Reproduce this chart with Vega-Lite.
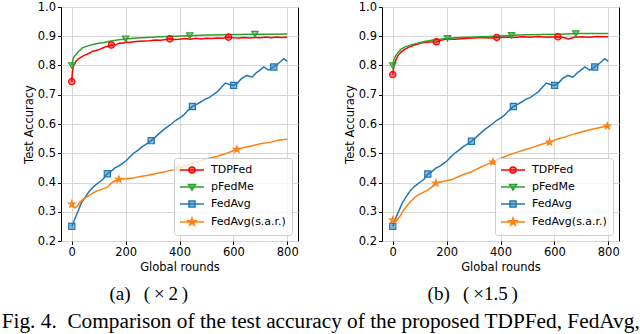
{
"$schema": "https://vega.github.io/schema/vega-lite/v6.json",
"padding": {"left": 1, "top": 0, "right": 0, "bottom": 0},
"config": {
  "font": "DejaVu Sans",
  "view": {"stroke": "black", "strokeWidth": 1},
  "axis": {"labelFont": "DejaVu Sans", "labelFontSize": 11.5, "titleFont": "DejaVu Sans", "titleFontSize": 11.5, "titleFontWeight": "normal", "labelColor": "black", "titleColor": "black", "tickColor": "black", "tickSize": 3.5, "domain": false, "gridColor": "#d6d6d6", "gridWidth": 1, "labelPadding": 2, "titlePadding": 3, "labelOverlap": false},
  "legend": {"labelFont": "DejaVu Sans", "labelFontSize": 11, "labelColor": "black"}
},
"datasets": {
"la": [
{"s":"TDPFed","r":0,"v":0.745},{"s":"TDPFed","r":2,"v":0.775},{"s":"TDPFed","r":5,"v":0.795},{"s":"TDPFed","r":10,"v":0.805},{"s":"TDPFed","r":16,"v":0.815},{"s":"TDPFed","r":25,"v":0.823},{"s":"TDPFed","r":41,"v":0.832},{"s":"TDPFed","r":55,"v":0.838},{"s":"TDPFed","r":65,"v":0.842},{"s":"TDPFed","r":78,"v":0.849},{"s":"TDPFed","r":90,"v":0.851},{"s":"TDPFed","r":103,"v":0.855},{"s":"TDPFed","r":115,"v":0.86},{"s":"TDPFed","r":125,"v":0.864},{"s":"TDPFed","r":135,"v":0.866},{"s":"TDPFed","r":147,"v":0.87},{"s":"TDPFed","r":160,"v":0.869},{"s":"TDPFed","r":170,"v":0.874},{"s":"TDPFed","r":178,"v":0.877},{"s":"TDPFed","r":190,"v":0.876},{"s":"TDPFed","r":203,"v":0.88},{"s":"TDPFed","r":215,"v":0.879},{"s":"TDPFed","r":230,"v":0.881},{"s":"TDPFed","r":250,"v":0.883},{"s":"TDPFed","r":270,"v":0.884},{"s":"TDPFed","r":290,"v":0.885},{"s":"TDPFed","r":310,"v":0.887},{"s":"TDPFed","r":330,"v":0.886},{"s":"TDPFed","r":350,"v":0.889},{"s":"TDPFed","r":364,"v":0.891},{"s":"TDPFed","r":380,"v":0.889},{"s":"TDPFed","r":400,"v":0.89},{"s":"TDPFed","r":420,"v":0.892},{"s":"TDPFed","r":440,"v":0.89},{"s":"TDPFed","r":460,"v":0.893},{"s":"TDPFed","r":480,"v":0.891},{"s":"TDPFed","r":500,"v":0.893},{"s":"TDPFed","r":520,"v":0.892},{"s":"TDPFed","r":540,"v":0.894},{"s":"TDPFed","r":560,"v":0.893},{"s":"TDPFed","r":582,"v":0.897},{"s":"TDPFed","r":600,"v":0.895},{"s":"TDPFed","r":620,"v":0.894},{"s":"TDPFed","r":640,"v":0.896},{"s":"TDPFed","r":660,"v":0.894},{"s":"TDPFed","r":680,"v":0.896},{"s":"TDPFed","r":700,"v":0.895},{"s":"TDPFed","r":720,"v":0.897},{"s":"TDPFed","r":740,"v":0.895},{"s":"TDPFed","r":760,"v":0.897},{"s":"TDPFed","r":780,"v":0.896},{"s":"TDPFed","r":800,"v":0.897},
{"s":"pFedMe","r":0,"v":0.8},{"s":"pFedMe","r":3,"v":0.815},{"s":"pFedMe","r":6,"v":0.825},{"s":"pFedMe","r":10,"v":0.832},{"s":"pFedMe","r":16,"v":0.838},{"s":"pFedMe","r":25,"v":0.848},{"s":"pFedMe","r":41,"v":0.861},{"s":"pFedMe","r":60,"v":0.867},{"s":"pFedMe","r":78,"v":0.872},{"s":"pFedMe","r":100,"v":0.876},{"s":"pFedMe","r":120,"v":0.879},{"s":"pFedMe","r":140,"v":0.883},{"s":"pFedMe","r":170,"v":0.887},{"s":"pFedMe","r":200,"v":0.891},{"s":"pFedMe","r":240,"v":0.894},{"s":"pFedMe","r":280,"v":0.896},{"s":"pFedMe","r":327,"v":0.898},{"s":"pFedMe","r":380,"v":0.9},{"s":"pFedMe","r":438,"v":0.902},{"s":"pFedMe","r":500,"v":0.904},{"s":"pFedMe","r":560,"v":0.905},{"s":"pFedMe","r":620,"v":0.906},{"s":"pFedMe","r":680,"v":0.907},{"s":"pFedMe","r":740,"v":0.907},{"s":"pFedMe","r":800,"v":0.908},
{"s":"FedAvg","r":0,"v":0.25},{"s":"FedAvg","r":5,"v":0.26},{"s":"FedAvg","r":12,"v":0.277},{"s":"FedAvg","r":20,"v":0.295},{"s":"FedAvg","r":25,"v":0.305},{"s":"FedAvg","r":35,"v":0.33},{"s":"FedAvg","r":50,"v":0.35},{"s":"FedAvg","r":65,"v":0.37},{"s":"FedAvg","r":80,"v":0.385},{"s":"FedAvg","r":100,"v":0.4},{"s":"FedAvg","r":115,"v":0.41},{"s":"FedAvg","r":132,"v":0.43},{"s":"FedAvg","r":145,"v":0.437},{"s":"FedAvg","r":160,"v":0.45},{"s":"FedAvg","r":175,"v":0.457},{"s":"FedAvg","r":190,"v":0.466},{"s":"FedAvg","r":203,"v":0.475},{"s":"FedAvg","r":215,"v":0.487},{"s":"FedAvg","r":230,"v":0.5},{"s":"FedAvg","r":245,"v":0.51},{"s":"FedAvg","r":260,"v":0.522},{"s":"FedAvg","r":275,"v":0.53},{"s":"FedAvg","r":295,"v":0.543},{"s":"FedAvg","r":310,"v":0.555},{"s":"FedAvg","r":325,"v":0.568},{"s":"FedAvg","r":340,"v":0.58},{"s":"FedAvg","r":355,"v":0.59},{"s":"FedAvg","r":370,"v":0.6},{"s":"FedAvg","r":385,"v":0.612},{"s":"FedAvg","r":400,"v":0.62},{"s":"FedAvg","r":415,"v":0.63},{"s":"FedAvg","r":430,"v":0.645},{"s":"FedAvg","r":448,"v":0.66},{"s":"FedAvg","r":465,"v":0.668},{"s":"FedAvg","r":480,"v":0.676},{"s":"FedAvg","r":495,"v":0.685},{"s":"FedAvg","r":510,"v":0.69},{"s":"FedAvg","r":525,"v":0.7},{"s":"FedAvg","r":540,"v":0.71},{"s":"FedAvg","r":555,"v":0.725},{"s":"FedAvg","r":570,"v":0.74},{"s":"FedAvg","r":585,"v":0.735},{"s":"FedAvg","r":601,"v":0.732},{"s":"FedAvg","r":615,"v":0.74},{"s":"FedAvg","r":630,"v":0.755},{"s":"FedAvg","r":650,"v":0.766},{"s":"FedAvg","r":669,"v":0.76},{"s":"FedAvg","r":685,"v":0.775},{"s":"FedAvg","r":700,"v":0.785},{"s":"FedAvg","r":713,"v":0.795},{"s":"FedAvg","r":731,"v":0.784},{"s":"FedAvg","r":750,"v":0.795},{"s":"FedAvg","r":765,"v":0.805},{"s":"FedAvg","r":787,"v":0.823},{"s":"FedAvg","r":800,"v":0.815},
{"s":"FedAvg(s.a.r.)","r":0,"v":0.326},{"s":"FedAvg(s.a.r.)","r":5,"v":0.318},{"s":"FedAvg(s.a.r.)","r":12,"v":0.313},{"s":"FedAvg(s.a.r.)","r":20,"v":0.318},{"s":"FedAvg(s.a.r.)","r":31,"v":0.333},{"s":"FedAvg(s.a.r.)","r":45,"v":0.345},{"s":"FedAvg(s.a.r.)","r":62,"v":0.354},{"s":"FedAvg(s.a.r.)","r":78,"v":0.364},{"s":"FedAvg(s.a.r.)","r":90,"v":0.37},{"s":"FedAvg(s.a.r.)","r":103,"v":0.374},{"s":"FedAvg(s.a.r.)","r":120,"v":0.38},{"s":"FedAvg(s.a.r.)","r":134,"v":0.385},{"s":"FedAvg(s.a.r.)","r":147,"v":0.398},{"s":"FedAvg(s.a.r.)","r":160,"v":0.405},{"s":"FedAvg(s.a.r.)","r":175,"v":0.411},{"s":"FedAvg(s.a.r.)","r":200,"v":0.413},{"s":"FedAvg(s.a.r.)","r":228,"v":0.415},{"s":"FedAvg(s.a.r.)","r":250,"v":0.42},{"s":"FedAvg(s.a.r.)","r":278,"v":0.424},{"s":"FedAvg(s.a.r.)","r":300,"v":0.428},{"s":"FedAvg(s.a.r.)","r":328,"v":0.433},{"s":"FedAvg(s.a.r.)","r":350,"v":0.438},{"s":"FedAvg(s.a.r.)","r":378,"v":0.444},{"s":"FedAvg(s.a.r.)","r":400,"v":0.45},{"s":"FedAvg(s.a.r.)","r":430,"v":0.46},{"s":"FedAvg(s.a.r.)","r":455,"v":0.468},{"s":"FedAvg(s.a.r.)","r":483,"v":0.476},{"s":"FedAvg(s.a.r.)","r":510,"v":0.483},{"s":"FedAvg(s.a.r.)","r":540,"v":0.49},{"s":"FedAvg(s.a.r.)","r":570,"v":0.498},{"s":"FedAvg(s.a.r.)","r":590,"v":0.505},{"s":"FedAvg(s.a.r.)","r":613,"v":0.513},{"s":"FedAvg(s.a.r.)","r":640,"v":0.52},{"s":"FedAvg(s.a.r.)","r":670,"v":0.526},{"s":"FedAvg(s.a.r.)","r":706,"v":0.533},{"s":"FedAvg(s.a.r.)","r":740,"v":0.538},{"s":"FedAvg(s.a.r.)","r":770,"v":0.545},{"s":"FedAvg(s.a.r.)","r":800,"v":0.548}
],
"ma": [
{"s":"TDPFed","r":0,"v":0.745},{"s":"TDPFed","r":147,"v":0.87},{"s":"TDPFed","r":364,"v":0.891},{"s":"TDPFed","r":582,"v":0.897},
{"s":"pFedMe","r":0,"v":0.8},{"s":"pFedMe","r":200,"v":0.891},{"s":"pFedMe","r":438,"v":0.902},{"s":"pFedMe","r":680,"v":0.907},
{"s":"FedAvg","r":0,"v":0.25},{"s":"FedAvg","r":132,"v":0.43},{"s":"FedAvg","r":295,"v":0.543},{"s":"FedAvg","r":448,"v":0.66},{"s":"FedAvg","r":601,"v":0.732},{"s":"FedAvg","r":750,"v":0.795},
{"s":"FedAvg(s.a.r.)","r":0,"v":0.326},{"s":"FedAvg(s.a.r.)","r":175,"v":0.411},{"s":"FedAvg(s.a.r.)","r":395,"v":0.449},{"s":"FedAvg(s.a.r.)","r":613,"v":0.513}
],
"lb": [
{"s":"TDPFed","r":0,"v":0.769},{"s":"TDPFed","r":3,"v":0.79},{"s":"TDPFed","r":6,"v":0.805},{"s":"TDPFed","r":10,"v":0.815},{"s":"TDPFed","r":19,"v":0.834},{"s":"TDPFed","r":30,"v":0.845},{"s":"TDPFed","r":44,"v":0.855},{"s":"TDPFed","r":60,"v":0.863},{"s":"TDPFed","r":81,"v":0.87},{"s":"TDPFed","r":100,"v":0.875},{"s":"TDPFed","r":118,"v":0.879},{"s":"TDPFed","r":140,"v":0.88},{"s":"TDPFed","r":162,"v":0.881},{"s":"TDPFed","r":180,"v":0.886},{"s":"TDPFed","r":203,"v":0.891},{"s":"TDPFed","r":230,"v":0.89},{"s":"TDPFed","r":268,"v":0.892},{"s":"TDPFed","r":300,"v":0.894},{"s":"TDPFed","r":330,"v":0.896},{"s":"TDPFed","r":360,"v":0.894},{"s":"TDPFed","r":386,"v":0.896},{"s":"TDPFed","r":420,"v":0.897},{"s":"TDPFed","r":450,"v":0.896},{"s":"TDPFed","r":480,"v":0.898},{"s":"TDPFed","r":510,"v":0.897},{"s":"TDPFed","r":540,"v":0.899},{"s":"TDPFed","r":570,"v":0.897},{"s":"TDPFed","r":613,"v":0.898},{"s":"TDPFed","r":635,"v":0.896},{"s":"TDPFed","r":653,"v":0.891},{"s":"TDPFed","r":670,"v":0.896},{"s":"TDPFed","r":700,"v":0.898},{"s":"TDPFed","r":730,"v":0.897},{"s":"TDPFed","r":760,"v":0.899},{"s":"TDPFed","r":800,"v":0.898},
{"s":"pFedMe","r":0,"v":0.8},{"s":"pFedMe","r":3,"v":0.815},{"s":"pFedMe","r":6,"v":0.825},{"s":"pFedMe","r":10,"v":0.832},{"s":"pFedMe","r":19,"v":0.844},{"s":"pFedMe","r":30,"v":0.855},{"s":"pFedMe","r":44,"v":0.863},{"s":"pFedMe","r":60,"v":0.868},{"s":"pFedMe","r":81,"v":0.874},{"s":"pFedMe","r":100,"v":0.878},{"s":"pFedMe","r":118,"v":0.882},{"s":"pFedMe","r":150,"v":0.887},{"s":"pFedMe","r":203,"v":0.893},{"s":"pFedMe","r":250,"v":0.896},{"s":"pFedMe","r":330,"v":0.898},{"s":"pFedMe","r":380,"v":0.9},{"s":"pFedMe","r":441,"v":0.903},{"s":"pFedMe","r":500,"v":0.905},{"s":"pFedMe","r":560,"v":0.906},{"s":"pFedMe","r":620,"v":0.907},{"s":"pFedMe","r":680,"v":0.909},{"s":"pFedMe","r":740,"v":0.909},{"s":"pFedMe","r":800,"v":0.909},
{"s":"FedAvg","r":0,"v":0.25},{"s":"FedAvg","r":5,"v":0.262},{"s":"FedAvg","r":12,"v":0.28},{"s":"FedAvg","r":20,"v":0.298},{"s":"FedAvg","r":25,"v":0.308},{"s":"FedAvg","r":35,"v":0.33},{"s":"FedAvg","r":50,"v":0.352},{"s":"FedAvg","r":65,"v":0.372},{"s":"FedAvg","r":80,"v":0.386},{"s":"FedAvg","r":100,"v":0.4},{"s":"FedAvg","r":115,"v":0.41},{"s":"FedAvg","r":130,"v":0.429},{"s":"FedAvg","r":145,"v":0.437},{"s":"FedAvg","r":160,"v":0.449},{"s":"FedAvg","r":175,"v":0.456},{"s":"FedAvg","r":190,"v":0.466},{"s":"FedAvg","r":203,"v":0.475},{"s":"FedAvg","r":215,"v":0.487},{"s":"FedAvg","r":230,"v":0.5},{"s":"FedAvg","r":245,"v":0.51},{"s":"FedAvg","r":260,"v":0.522},{"s":"FedAvg","r":275,"v":0.53},{"s":"FedAvg","r":292,"v":0.541},{"s":"FedAvg","r":310,"v":0.555},{"s":"FedAvg","r":325,"v":0.568},{"s":"FedAvg","r":340,"v":0.58},{"s":"FedAvg","r":355,"v":0.59},{"s":"FedAvg","r":370,"v":0.6},{"s":"FedAvg","r":385,"v":0.612},{"s":"FedAvg","r":400,"v":0.62},{"s":"FedAvg","r":415,"v":0.63},{"s":"FedAvg","r":430,"v":0.645},{"s":"FedAvg","r":448,"v":0.66},{"s":"FedAvg","r":465,"v":0.668},{"s":"FedAvg","r":480,"v":0.676},{"s":"FedAvg","r":495,"v":0.685},{"s":"FedAvg","r":510,"v":0.69},{"s":"FedAvg","r":525,"v":0.7},{"s":"FedAvg","r":540,"v":0.71},{"s":"FedAvg","r":555,"v":0.725},{"s":"FedAvg","r":570,"v":0.74},{"s":"FedAvg","r":585,"v":0.735},{"s":"FedAvg","r":601,"v":0.732},{"s":"FedAvg","r":615,"v":0.74},{"s":"FedAvg","r":630,"v":0.755},{"s":"FedAvg","r":650,"v":0.766},{"s":"FedAvg","r":669,"v":0.76},{"s":"FedAvg","r":685,"v":0.775},{"s":"FedAvg","r":700,"v":0.785},{"s":"FedAvg","r":713,"v":0.795},{"s":"FedAvg","r":731,"v":0.784},{"s":"FedAvg","r":750,"v":0.795},{"s":"FedAvg","r":765,"v":0.805},{"s":"FedAvg","r":787,"v":0.823},{"s":"FedAvg","r":800,"v":0.815},
{"s":"FedAvg(s.a.r.)","r":0,"v":0.271},{"s":"FedAvg(s.a.r.)","r":5,"v":0.264},{"s":"FedAvg(s.a.r.)","r":10,"v":0.265},{"s":"FedAvg(s.a.r.)","r":20,"v":0.277},{"s":"FedAvg(s.a.r.)","r":29,"v":0.288},{"s":"FedAvg(s.a.r.)","r":40,"v":0.305},{"s":"FedAvg(s.a.r.)","r":54,"v":0.322},{"s":"FedAvg(s.a.r.)","r":66,"v":0.335},{"s":"FedAvg(s.a.r.)","r":79,"v":0.347},{"s":"FedAvg(s.a.r.)","r":90,"v":0.355},{"s":"FedAvg(s.a.r.)","r":104,"v":0.362},{"s":"FedAvg(s.a.r.)","r":115,"v":0.367},{"s":"FedAvg(s.a.r.)","r":129,"v":0.373},{"s":"FedAvg(s.a.r.)","r":145,"v":0.385},{"s":"FedAvg(s.a.r.)","r":160,"v":0.398},{"s":"FedAvg(s.a.r.)","r":180,"v":0.402},{"s":"FedAvg(s.a.r.)","r":203,"v":0.407},{"s":"FedAvg(s.a.r.)","r":220,"v":0.41},{"s":"FedAvg(s.a.r.)","r":241,"v":0.419},{"s":"FedAvg(s.a.r.)","r":265,"v":0.428},{"s":"FedAvg(s.a.r.)","r":291,"v":0.436},{"s":"FedAvg(s.a.r.)","r":310,"v":0.445},{"s":"FedAvg(s.a.r.)","r":328,"v":0.453},{"s":"FedAvg(s.a.r.)","r":350,"v":0.462},{"s":"FedAvg(s.a.r.)","r":372,"v":0.47},{"s":"FedAvg(s.a.r.)","r":400,"v":0.482},{"s":"FedAvg(s.a.r.)","r":429,"v":0.493},{"s":"FedAvg(s.a.r.)","r":460,"v":0.503},{"s":"FedAvg(s.a.r.)","r":490,"v":0.512},{"s":"FedAvg(s.a.r.)","r":520,"v":0.52},{"s":"FedAvg(s.a.r.)","r":550,"v":0.53},{"s":"FedAvg(s.a.r.)","r":582,"v":0.538},{"s":"FedAvg(s.a.r.)","r":610,"v":0.548},{"s":"FedAvg(s.a.r.)","r":640,"v":0.556},{"s":"FedAvg(s.a.r.)","r":677,"v":0.567},{"s":"FedAvg(s.a.r.)","r":710,"v":0.575},{"s":"FedAvg(s.a.r.)","r":740,"v":0.582},{"s":"FedAvg(s.a.r.)","r":770,"v":0.588},{"s":"FedAvg(s.a.r.)","r":797,"v":0.593},{"s":"FedAvg(s.a.r.)","r":800,"v":0.592}
],
"mb": [
{"s":"TDPFed","r":0,"v":0.769},{"s":"TDPFed","r":162,"v":0.881},{"s":"TDPFed","r":386,"v":0.896},{"s":"TDPFed","r":613,"v":0.898},
{"s":"pFedMe","r":0,"v":0.8},{"s":"pFedMe","r":203,"v":0.893},{"s":"pFedMe","r":441,"v":0.903},{"s":"pFedMe","r":680,"v":0.909},
{"s":"FedAvg","r":0,"v":0.25},{"s":"FedAvg","r":130,"v":0.429},{"s":"FedAvg","r":292,"v":0.541},{"s":"FedAvg","r":448,"v":0.66},{"s":"FedAvg","r":601,"v":0.732},{"s":"FedAvg","r":750,"v":0.795},
{"s":"FedAvg(s.a.r.)","r":0,"v":0.271},{"s":"FedAvg(s.a.r.)","r":160,"v":0.398},{"s":"FedAvg(s.a.r.)","r":372,"v":0.47},{"s":"FedAvg(s.a.r.)","r":582,"v":0.538},{"s":"FedAvg(s.a.r.)","r":797,"v":0.593}
]
},
"title": {"text": "Fig. 4.\u2002Comparison of the test accuracy of the proposed TDPFed, FedAvg,", "orient": "bottom", "anchor": "start", "frame": "bounds", "font": "Liberation Serif", "fontSize": 21.3, "fontWeight": "normal", "color": "black", "offset": 7, "dx": -21},
"spacing": 44,
"resolve": {"scale": {"color": "independent"}, "legend": {"color": "independent"}},
"hconcat": [
{
  "width": 237, "height": 234,
  "title": {"text": "(a)\u2002\u2009(\u2009×\u20092\u2009)", "orient": "bottom", "anchor": "middle", "frame": "bounds", "font": "Liberation Serif", "fontSize": 19, "fontWeight": "normal", "color": "black", "offset": 12, "dx": -12},
  "encoding": {
    "x": {"field": "r", "type": "quantitative", "scale": {"domain": [-40, 840], "nice": false, "zero": false}, "axis": {"values": [0, 200, 400, 600, 800], "title": "Global rounds"}},
    "y": {"field": "v", "type": "quantitative", "scale": {"domain": [0.2, 1.0], "nice": false, "zero": false}, "axis": {"values": [0.2, 0.3, 0.4, 0.5, 0.6, 0.7, 0.8, 0.9, 1.0], "format": ".1f", "title": "Test Accuracy"}}
  },
  "layer": [
    {"data": {"name": "la"}, "mark": {"type": "line", "strokeWidth": 1.5},
     "encoding": {
       "color": {"field": "s", "type": "nominal", "scale": {"domain": ["TDPFed", "pFedMe", "FedAvg", "FedAvg(s.a.r.)"], "range": ["#ff0000", "#2ca02c", "#1f77b4", "#ff7f0e"]},
         "legend": {"title": null, "orient": "bottom-right", "offset": 6, "padding": 6, "fillColor": "rgba(255,255,255,0.8)", "strokeColor": "#cccccc", "cornerRadius": 3, "symbolSize": 100, "labelOffset": 19, "rowPadding": 5, "symbolStrokeWidth": 1.5,
           "encode": {"symbols": {"update": {
             "shape": {"signal": "datum.value === 'TDPFed' ? 'M-1.2,0H3.6M0.6,0A0.6,0.6 0 1,0 1.8,0A0.6,0.6 0 1,0 0.6,0Z' : datum.value === 'pFedMe' ? 'M-1.2,0H3.6M0.5,-0.5L1.9,-0.5L1.2,0.6Z' : datum.value === 'FedAvg' ? 'M-1.2,0H3.6M0.6,-0.6H1.8V0.6H0.6Z' : 'M-1.2,0H3.6M1.2,-0.75L1.367,-0.23L1.913,-0.232L1.471,0.088L1.641,0.607L1.2,0.285L0.759,0.607L0.929,0.088L0.487,-0.232L1.033,-0.23Z'"},
             "fill": {"signal": "datum.value === 'TDPFed' ? '#ff0000' : datum.value === 'pFedMe' ? '#2ca02c' : datum.value === 'FedAvg' ? '#1f77b4' : '#ff7f0e'"},
             "fillOpacity": {"value": 0.5}
           }}}}}
     }},
    {"data": {"name": "ma"}, "transform": [{"filter": "datum.s === 'TDPFed'"}], "mark": {"type": "point", "shape": "circle", "size": 40, "filled": true, "color": "#ff0000", "fill": "#ff0000", "stroke": "#ff0000", "fillOpacity": 0.5, "strokeWidth": 1.2, "opacity": 1}},
    {"data": {"name": "ma"}, "transform": [{"filter": "datum.s === 'pFedMe'"}], "mark": {"type": "point", "shape": "triangle-down", "size": 40, "filled": true, "color": "#2ca02c", "fill": "#2ca02c", "stroke": "#2ca02c", "fillOpacity": 0.5, "strokeWidth": 1.2, "opacity": 1}},
    {"data": {"name": "ma"}, "transform": [{"filter": "datum.s === 'FedAvg'"}], "mark": {"type": "point", "shape": "square", "size": 38, "filled": true, "color": "#1f77b4", "fill": "#1f77b4", "stroke": "#1f77b4", "fillOpacity": 0.5, "strokeWidth": 1.2, "opacity": 1}},
    {"data": {"name": "ma"}, "transform": [{"filter": "datum.s === 'FedAvg(s.a.r.)'"}], "mark": {"type": "point", "shape": "M0,-1L0.223,-0.307L0.951,-0.309L0.361,0.117L0.588,0.809L0,0.38L-0.588,0.809L-0.361,0.117L-0.951,-0.309L-0.223,-0.307Z", "size": 45, "filled": true, "color": "#ff7f0e", "fill": "#ff7f0e", "stroke": "#ff7f0e", "fillOpacity": 0.5, "strokeWidth": 1.2, "opacity": 1}}
  ]
},
{
  "width": 237, "height": 234,
  "title": {"text": "(b)\u2002\u2009(\u2009×1.5\u2009)", "orient": "bottom", "anchor": "middle", "frame": "bounds", "font": "Liberation Serif", "fontSize": 19, "fontWeight": "normal", "color": "black", "offset": 12, "dx": -9},
  "encoding": {
    "x": {"field": "r", "type": "quantitative", "scale": {"domain": [-40, 840], "nice": false, "zero": false}, "axis": {"values": [0, 200, 400, 600, 800], "title": "Global rounds"}},
    "y": {"field": "v", "type": "quantitative", "scale": {"domain": [0.2, 1.0], "nice": false, "zero": false}, "axis": {"values": [0.2, 0.3, 0.4, 0.5, 0.6, 0.7, 0.8, 0.9, 1.0], "format": ".1f", "title": "Test Accuracy"}}
  },
  "layer": [
    {"data": {"name": "lb"}, "mark": {"type": "line", "strokeWidth": 1.5},
     "encoding": {
       "color": {"field": "s", "type": "nominal", "scale": {"domain": ["TDPFed", "pFedMe", "FedAvg", "FedAvg(s.a.r.)"], "range": ["#ff0000", "#2ca02c", "#1f77b4", "#ff7f0e"]},
         "legend": {"title": null, "orient": "bottom-right", "offset": 6, "padding": 6, "fillColor": "rgba(255,255,255,0.8)", "strokeColor": "#cccccc", "cornerRadius": 3, "symbolSize": 100, "labelOffset": 19, "rowPadding": 5, "symbolStrokeWidth": 1.5,
           "encode": {"symbols": {"update": {
             "shape": {"signal": "datum.value === 'TDPFed' ? 'M-1.2,0H3.6M0.6,0A0.6,0.6 0 1,0 1.8,0A0.6,0.6 0 1,0 0.6,0Z' : datum.value === 'pFedMe' ? 'M-1.2,0H3.6M0.5,-0.5L1.9,-0.5L1.2,0.6Z' : datum.value === 'FedAvg' ? 'M-1.2,0H3.6M0.6,-0.6H1.8V0.6H0.6Z' : 'M-1.2,0H3.6M1.2,-0.75L1.367,-0.23L1.913,-0.232L1.471,0.088L1.641,0.607L1.2,0.285L0.759,0.607L0.929,0.088L0.487,-0.232L1.033,-0.23Z'"},
             "fill": {"signal": "datum.value === 'TDPFed' ? '#ff0000' : datum.value === 'pFedMe' ? '#2ca02c' : datum.value === 'FedAvg' ? '#1f77b4' : '#ff7f0e'"},
             "fillOpacity": {"value": 0.5}
           }}}}}
     }},
    {"data": {"name": "mb"}, "transform": [{"filter": "datum.s === 'TDPFed'"}], "mark": {"type": "point", "shape": "circle", "size": 40, "filled": true, "color": "#ff0000", "fill": "#ff0000", "stroke": "#ff0000", "fillOpacity": 0.5, "strokeWidth": 1.2, "opacity": 1}},
    {"data": {"name": "mb"}, "transform": [{"filter": "datum.s === 'pFedMe'"}], "mark": {"type": "point", "shape": "triangle-down", "size": 40, "filled": true, "color": "#2ca02c", "fill": "#2ca02c", "stroke": "#2ca02c", "fillOpacity": 0.5, "strokeWidth": 1.2, "opacity": 1}},
    {"data": {"name": "mb"}, "transform": [{"filter": "datum.s === 'FedAvg'"}], "mark": {"type": "point", "shape": "square", "size": 38, "filled": true, "color": "#1f77b4", "fill": "#1f77b4", "stroke": "#1f77b4", "fillOpacity": 0.5, "strokeWidth": 1.2, "opacity": 1}},
    {"data": {"name": "mb"}, "transform": [{"filter": "datum.s === 'FedAvg(s.a.r.)'"}], "mark": {"type": "point", "shape": "M0,-1L0.223,-0.307L0.951,-0.309L0.361,0.117L0.588,0.809L0,0.38L-0.588,0.809L-0.361,0.117L-0.951,-0.309L-0.223,-0.307Z", "size": 45, "filled": true, "color": "#ff7f0e", "fill": "#ff7f0e", "stroke": "#ff7f0e", "fillOpacity": 0.5, "strokeWidth": 1.2, "opacity": 1}}
  ]
}
]
}
